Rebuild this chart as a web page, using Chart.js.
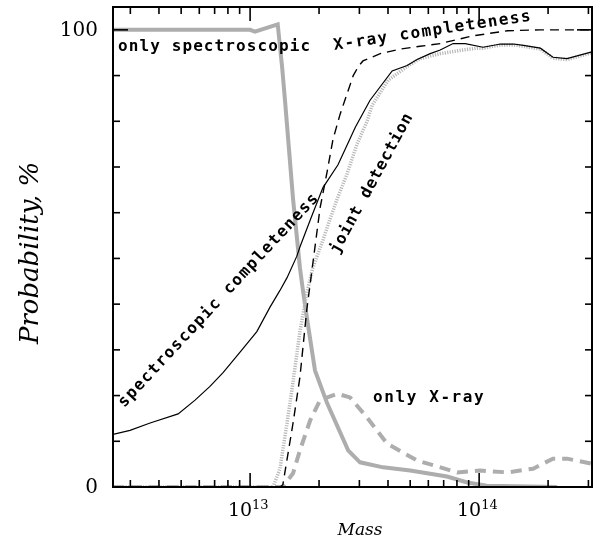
<!DOCTYPE html>
<html>
<head>
<meta charset="utf-8">
<script src="https://cdn.jsdelivr.net/npm/chart.js@4.4.1/dist/chart.umd.min.js"></script>
<style>
  html, body { margin: 0; padding: 0; background: #fff; }
  #wrap { width: 603px; height: 548px; }
</style>
</head>
<body>
<div id="wrap"><canvas id="chart" width="603" height="548"></canvas></div>
<script>
// spectroscopic completeness (thin black)
const specMass = [2.52e12, 2.99e12, 3.66e12, 4.85e12, 5.75e12, 6.68e12, 7.62e12, 9.04e12, 1.07e13, 1.22e13,
  1.35e13, 1.45e13, 1.60e13, 1.65e13, 1.85e13, 2.08e13, 2.42e13, 2.88e13, 3.34e13, 4.17e13, 4.85e13,
  5.36e13, 6.11e13, 6.76e13, 7.70e13, 8.69e13, 1.04e14, 1.24e14, 1.41e14, 1.56e14, 1.85e14, 2.10e14,
  2.42e14, 3.11e14];
const specPct = [11.5, 12.4, 14, 16, 19, 22, 25, 29.5, 34, 39.3,
  43, 45.8, 50.5, 52.5, 59, 65.5, 70.5, 78.7, 84.6, 91, 92.2,
  93.5, 94.8, 95.6, 97, 97, 96.2, 96.9, 96.9, 96.6, 96, 94,
  93.7, 95.2];

// X-ray completeness (black dashed)
const xrayMass = [2.52e12, 1.35e13, 1.39e13, 1.54e13, 1.65e13, 1.77e13, 1.88e13, 2.02e13, 2.17e13, 2.30e13,
  2.47e13, 2.65e13, 2.82e13, 2.97e13, 3.11e13, 3.70e13, 4.52e13, 5.52e13, 6.76e13, 9.42e13, 1.33e14,
  1.85e14, 3.11e14];
const xrayPct = [0, 0, 0.5, 14, 24, 39, 49, 61, 69, 76,
  81.5, 86, 90, 92, 93.2, 94.8, 95.8, 96.4, 97, 98.7, 99.8,
  100, 100];

// joint detection (grey dotted)
const jointMass = [2.52e12, 1.26e13, 1.35e13, 1.45e13, 1.54e13, 1.65e13, 1.77e13, 1.88e13, 2.08e13, 2.23e13,
  2.42e13, 2.65e13, 2.93e13, 3.24e13, 3.41e13, 4.01e13, 4.85e13, 5.52e13, 6.76e13, 8.26e13, 9.80e13,
  1.04e14, 1.24e14, 1.41e14, 1.56e14, 1.85e14, 2.10e14, 2.42e14, 3.11e14];
const jointPct = [0, 0, 4, 14, 23, 34, 42.5, 48, 54, 58.5,
  63.5, 68.5, 75, 80, 83.5, 89, 92, 93.7, 94.8, 95.5, 96,
  96, 96.7, 96.7, 96.4, 95.8, 93.8, 93.5, 95];

// only spectroscopic (thick grey)
const onlySpecMass = [2.52e12, 1.0e13, 1.05e13, 1.32e13, 1.38e13, 1.42e13, 1.54e13, 1.65e13, 1.69e13, 1.77e13,
  1.92e13, 2.17e13, 2.68e13, 3.02e13, 3.81e13, 5.00e13, 7.24e13, 8.87e13, 1.08e14, 2.19e14];
const onlySpecPct = [100, 100, 99.6, 101.2, 91.8, 84.6, 63, 48, 44, 37,
  25.5, 18.3, 8, 5.4, 4.3, 3.6, 2.3, 1, 0.3, 0];

// only X-ray (thick grey dashed)
const onlyXrayMass = [2.52e12, 1.39e13, 1.54e13, 1.65e13, 1.83e13, 2.02e13, 2.40e13, 2.73e13, 3.24e13, 3.96e13,
  5.36e13, 8.02e13, 1.01e14, 1.33e14, 1.72e14, 2.10e14, 2.42e14, 3.11e14];
const onlyXrayPct = [0, 0, 3, 8, 14.6, 19, 20.4, 19.6, 15.2, 9.5,
  5.8, 3.2, 3.6, 3.2, 4, 6.2, 6.2, 5.1];

const xMajor = [1e13, 1e14];
const xMajorLabels = [['10', '13'], ['10', '14']];
const yMajor = [0, 100];
const yMajorLabels = ['0', '100'];

const pts = (xs, ys) => xs.map((x, i) => ({ x, y: ys[i] }));

const LABEL_FONT = 'bold 16px "DejaVu Sans Mono", monospace';
const curveLabels = [
  { text: 'only spectroscopic', at: [2.65e12, 95.3], angle: 0, spacing: 1.1 },
  { text: 'X-ray completeness', at: [2.33e13, 95.6], angle: -8.5, spacing: 1.5 },
  { text: 'spectroscopic completeness', at: [2.82e12, 17.3], angle: -47, spacing: 1.4 },
  { text: 'joint detection', at: [2.42e13, 50.8], angle: -61.5, spacing: 0.9 },
  { text: 'only X-ray', at: [3.44e13, 18.6], angle: 0, spacing: 1.6 }
];

const frame = {
  id: 'frame',
  afterDatasetsDraw(chart) {
    const { ctx, scales: { x, y } } = chart;
    ctx.save();
    ctx.fillStyle = '#000';
    ctx.font = LABEL_FONT;
    ctx.textBaseline = 'alphabetic';
    ctx.textAlign = 'left';
    for (const l of curveLabels) {
      ctx.save();
      ctx.letterSpacing = l.spacing + 'px';
      ctx.translate(x.getPixelForValue(l.at[0]), y.getPixelForValue(l.at[1]));
      ctx.rotate(l.angle * Math.PI / 180);
      ctx.fillText(l.text, 0, 0);
      ctx.restore();
    }
    ctx.restore();
  },
  afterDraw(chart) {
    const { ctx, chartArea: a, scales: { x, y } } = chart;
    const seg = (x0, y0, x1, y1) => { ctx.beginPath(); ctx.moveTo(x0, y0); ctx.lineTo(x1, y1); ctx.stroke(); };
    ctx.save();
    ctx.strokeStyle = '#000';
    ctx.lineWidth = 1.6;

    // log ticks, pointing inward on bottom and top
    for (let dec = 1e12; dec <= 1e14; dec *= 10) {
      for (let k = 1; k <= 9; k++) {
        const v = dec * k;
        if (v < x.min || v > x.max) continue;
        const px = x.getPixelForValue(v);
        const len = k === 1 ? 14 : 7;
        seg(px, a.bottom, px, a.bottom - len);
        seg(px, a.top, px, a.top + len);
      }
    }
    // linear ticks every 10 %, long ones at the labelled values
    for (let v = 0; v <= 100; v += 10) {
      const py = y.getPixelForValue(v);
      const len = yMajor.includes(v) ? 15 : 7;
      seg(a.left, py, a.left + len, py);
      seg(a.right, py, a.right - len, py);
    }

    ctx.lineWidth = 2;
    ctx.strokeRect(a.left, a.top, a.right - a.left, a.bottom - a.top);

    ctx.fillStyle = '#000';
    ctx.font = '20px "DejaVu Serif", serif';
    ctx.textAlign = 'right';
    ctx.textBaseline = 'middle';
    yMajor.forEach((v, i) => ctx.fillText(yMajorLabels[i], a.left - 15, y.getPixelForValue(v) + 1));

    ctx.textBaseline = 'alphabetic';
    xMajor.forEach((v, i) => {
      const px = x.getPixelForValue(v);
      ctx.font = '19px "DejaVu Serif", serif';
      ctx.textAlign = 'right';
      ctx.fillText(xMajorLabels[i][0], px + 2, a.bottom + 29);
      ctx.font = '13px "DejaVu Serif", serif';
      ctx.textAlign = 'left';
      ctx.fillText(xMajorLabels[i][1], px + 2, a.bottom + 22);
    });

    ctx.font = 'italic 17px "DejaVu Serif", serif';
    ctx.textAlign = 'center';
    ctx.fillText('Mass', 360, a.bottom + 48);

    ctx.save();
    ctx.translate(38, 253);
    ctx.rotate(-Math.PI / 2);
    ctx.font = 'italic 26px "DejaVu Serif", serif';
    ctx.fillText('Probability, %', 0, 0);
    ctx.restore();

    ctx.restore();
  }
};

const line = (label, xs, ys, style) => Object.assign({
  label, data: pts(xs, ys), pointRadius: 0, tension: 0, fill: false
}, style);

new Chart(document.getElementById('chart'), {
  type: 'line',
  data: {
    datasets: [
      line('spectroscopic completeness', specMass, specPct, { borderColor: '#000', borderWidth: 1.2 }),
      line('X-ray completeness', xrayMass, xrayPct, { borderColor: '#000', borderWidth: 1.4, borderDash: [9, 6] }),
      line('joint detection', jointMass, jointPct, { borderColor: '#b8b8b8', borderWidth: 3.5, borderDash: [1.2, 1.3] }),
      line('only spectroscopic', onlySpecMass, onlySpecPct, { borderColor: '#adadad', borderWidth: 4 }),
      line('only X-ray', onlyXrayMass, onlyXrayPct, { borderColor: '#adadad', borderWidth: 4, borderDash: [11, 7] })
    ]
  },
  options: {
    responsive: false,
    animation: false,
    layout: { padding: { left: 113, top: 7, right: 11, bottom: 61 } },
    plugins: { legend: { display: false }, tooltip: { enabled: false } },
    scales: {
      x: { type: 'logarithmic', min: 2.52e12, max: 3.11e14, display: false },
      y: { type: 'linear', min: 0, max: 105, display: false }
    }
  },
  plugins: [frame]
});
</script>
</body>
</html>
